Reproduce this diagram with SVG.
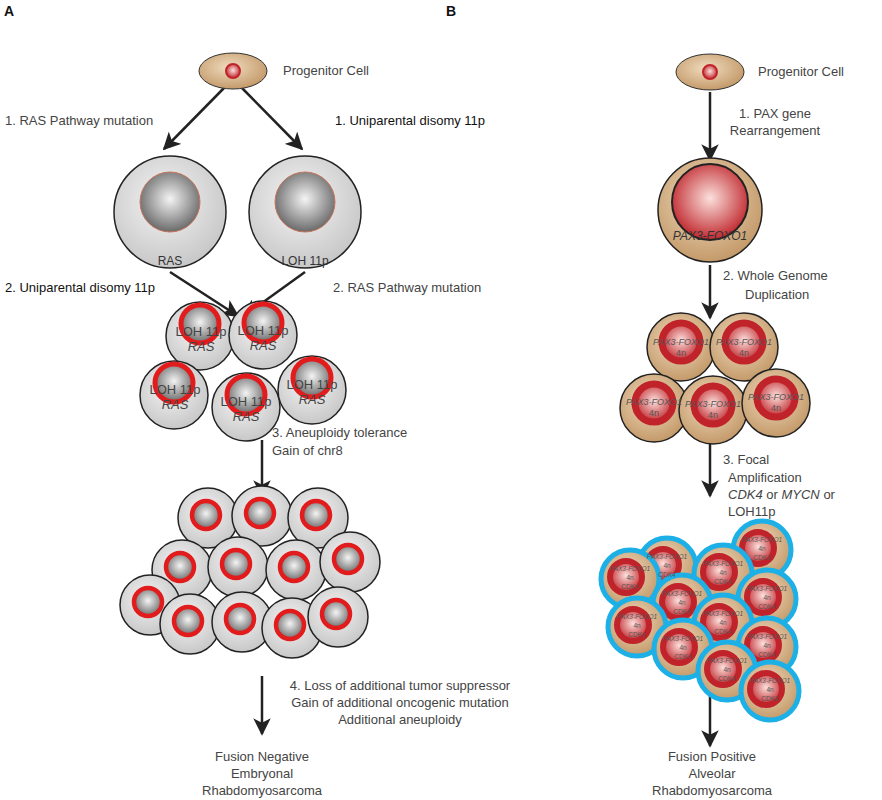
<svg xmlns="http://www.w3.org/2000/svg" width="882" height="800" viewBox="0 0 882 800">
<defs>
<radialGradient id="gcell" cx="45%" cy="40%" r="60%"><stop offset="0" stop-color="#f4f4f4"/><stop offset="1" stop-color="#c8c8c8"/></radialGradient>
<radialGradient id="gnuc" cx="50%" cy="45%" r="55%"><stop offset="0" stop-color="#f4f4f4"/><stop offset="1" stop-color="#6a6a6a"/></radialGradient>
<radialGradient id="tan" cx="45%" cy="40%" r="60%"><stop offset="0" stop-color="#f0dcc0"/><stop offset="1" stop-color="#c49a6a"/></radialGradient>
<radialGradient id="rnuc" cx="50%" cy="45%" r="55%"><stop offset="0" stop-color="#fbe0dc"/><stop offset="1" stop-color="#c0282e"/></radialGradient>
<marker id="ah" viewBox="0 0 10 10" refX="9" refY="5" markerWidth="7" markerHeight="7" markerUnits="strokeWidth" orient="auto"><path d="M0,0 L10,5 L0,10 L2.5,5 z" fill="#222"/></marker>
<g id="gc"><circle r="34" fill="url(#gcell)" stroke="#222" stroke-width="1.5"/><circle cy="-12" r="19" fill="url(#gnuc)" stroke="#e21c1c" stroke-width="5"/></g>
<g id="gs"><circle r="30" fill="url(#gcell)" stroke="#222" stroke-width="1.5"/><circle cx="-2" cy="-3" r="14" fill="url(#gnuc)" stroke="#e21c1c" stroke-width="4.5"/></g>
<g id="tc"><circle r="34" fill="url(#tan)" stroke="#222" stroke-width="1.5"/><circle cy="-5" r="19" fill="url(#rnuc)" stroke="#c1232b" stroke-width="7"/></g>
<g id="bc"><circle r="29" fill="url(#tan)" stroke="#1cb0e6" stroke-width="5"/><circle cx="-4" cy="-2" r="16" fill="url(#rnuc)" stroke="#c1232b" stroke-width="6"/></g>
</defs>
<style>
text{font-family:"Liberation Sans",Arial,sans-serif;font-size:13px;fill:#444}
.b{fill:#111}
.h{font-weight:bold;fill:#111;font-size:14px}
.s{font-size:12px;fill:#333}
.t{font-size:9px;fill:#555}
.tt{font-size:6.5px;fill:#555}
.i{font-style:italic}
.c{text-anchor:middle}
.con line{stroke:#222;stroke-width:2.5;marker-end:url(#ah)}
</style>
<rect width="882" height="800" fill="#fff"/>
<text x="4" y="16" class="h">A</text>
<text x="446" y="16" class="h">B</text>

<g id="connectors" class="con">
<line x1="224" y1="88" x2="164" y2="149"/>
<line x1="242" y1="88" x2="302" y2="149"/>
<line x1="170" y1="272" x2="238" y2="316"/>
<line x1="305" y1="272" x2="244" y2="316"/>
<line x1="262" y1="440" x2="262" y2="496"/>
<line x1="262" y1="676" x2="262" y2="734"/>
<line x1="710" y1="92" x2="710" y2="160"/>
<line x1="710" y1="265" x2="710" y2="318"/>
<line x1="710" y1="440" x2="710" y2="496"/>
<line x1="710" y1="692" x2="710" y2="746"/>
</g>

<g id="progA"><ellipse cx="233" cy="71" rx="34" ry="18" fill="url(#tan)" stroke="#333"/><circle cx="233" cy="71" r="7" fill="url(#rnuc)" stroke="#c1232b" stroke-width="2"/><text x="283" y="75">Progenitor Cell</text></g>
<text x="5" y="125">1. RAS Pathway mutation</text>
<text x="335" y="125" class="b">1. Uniparental disomy 11p</text>
<g id="cellRAS"><circle cx="170" cy="212" r="56" fill="url(#gcell)" stroke="#222" stroke-width="1.5"/><circle cx="170" cy="202" r="30" fill="url(#gnuc)" stroke="#c8745a" stroke-width="1"/><text x="170" y="265" class="s c">RAS</text></g>
<g id="cellLOH"><circle cx="305" cy="212" r="56" fill="url(#gcell)" stroke="#222" stroke-width="1.5"/><circle cx="305" cy="202" r="30" fill="url(#gnuc)" stroke="#c8745a" stroke-width="1"/><text x="305" y="265" class="s c">LOH 11p</text></g>
<text x="5" y="292" class="b">2. Uniparental disomy 11p</text>
<text x="333" y="292">2. RAS Pathway mutation</text>

<g id="clusterA1">
<use href="#gc" x="200" y="336"/><use href="#gc" x="263" y="335"/><use href="#gc" x="174" y="395"/><use href="#gc" x="246" y="407"/><use href="#gc" x="312" y="390"/>
<text x="201" y="336" class="c">LOH 11p</text><text x="201" y="351" class="c i">RAS</text>
<text x="263" y="335" class="c">LOH 11p</text><text x="263" y="350" class="c i">RAS</text>
<text x="175" y="394" class="c">LOH 11p</text><text x="175" y="409" class="c i">RAS</text>
<text x="246" y="406" class="c">LOH 11p</text><text x="246" y="421" class="c i">RAS</text>
<text x="312" y="389" class="c">LOH 11p</text><text x="312" y="404" class="c i">RAS</text>
</g>
<text x="272" y="437">3. Aneuploidy tolerance</text>
<text x="272" y="455">Gain of chr8</text>

<g id="clusterA2">
<use href="#gs" x="208" y="518"/><use href="#gs" x="262" y="516"/><use href="#gs" x="318" y="518"/>
<use href="#gs" x="182" y="570"/><use href="#gs" x="238" y="567"/><use href="#gs" x="296" y="570"/><use href="#gs" x="350" y="562"/>
<use href="#gs" x="150" y="605"/><use href="#gs" x="190" y="624"/><use href="#gs" x="242" y="622"/><use href="#gs" x="292" y="628"/><use href="#gs" x="338" y="617"/>
</g>
<text x="400" y="690" class="c">4. Loss of additional tumor suppressor</text>
<text x="400" y="707" class="c">Gain of additional oncogenic mutation</text>
<text x="400" y="724" class="c">Additional aneuploidy</text>
<text x="262" y="761" class="c">Fusion Negative</text>
<text x="262" y="778" class="c">Embryonal</text>
<text x="262" y="795" class="c">Rhabdomyosarcoma</text>

<g id="progB"><ellipse cx="710" cy="72" rx="34" ry="18" fill="url(#tan)" stroke="#333"/><circle cx="710" cy="72" r="7" fill="url(#rnuc)" stroke="#c1232b" stroke-width="2"/><text x="758" y="76">Progenitor Cell</text></g>
<text x="775" y="118" class="c">1. PAX gene</text>
<text x="775" y="135" class="c">Rearrangement</text>
<g id="cellPAX"><circle cx="710" cy="210" r="52" fill="url(#tan)" stroke="#222" stroke-width="1.5"/><circle cx="710" cy="202" r="38" fill="url(#rnuc)" stroke="#222" stroke-width="2"/><text x="710" y="240" class="s c i">PAX3-FOXO1</text></g>
<text x="723" y="280">2. Whole Genome</text>
<text x="745" y="299">Duplication</text>

<g id="clusterB1">
<use href="#tc" x="681" y="347"/><use href="#tc" x="744" y="347"/><use href="#tc" x="654" y="408"/><use href="#tc" x="713" y="410"/><use href="#tc" x="776" y="403"/>
<text x="681" y="345" class="t c i">PAX3-FOXO1</text><text x="681" y="356" class="t c">4n</text>
<text x="744" y="345" class="t c i">PAX3-FOXO1</text><text x="744" y="356" class="t c">4n</text>
<text x="654" y="405" class="t c i">PAX3-FOXO1</text><text x="654" y="416" class="t c">4n</text>
<text x="713" y="407" class="t c i">PAX3-FOXO1</text><text x="713" y="418" class="t c">4n</text>
<text x="776" y="400" class="t c i">PAX3-FOXO1</text><text x="776" y="411" class="t c">4n</text>
</g>
<text x="723" y="464">3. Focal</text>
<text x="728" y="482">Amplification</text>
<text x="728" y="499"><tspan class="i">CDK4</tspan> or <tspan class="i">MYCN</tspan> or</text>
<text x="728" y="516">LOH11p</text>

<g id="clusterB2" transform="translate(0,4)">
<use href="#bc" x="667" y="563"/><use href="#bc" x="630" y="575"/><use href="#bc" x="762" y="546"/><use href="#bc" x="723" y="570"/>
<use href="#bc" x="682" y="600"/><use href="#bc" x="767" y="595"/><use href="#bc" x="637" y="623"/><use href="#bc" x="723" y="620"/>
<use href="#bc" x="683" y="645"/><use href="#bc" x="767" y="643"/><use href="#bc" x="727" y="667"/><use href="#bc" x="770" y="687"/>
<text x="667" y="555" class="tt c i">PAX3-FOXO1</text><text x="667" y="564" class="tt c">4n</text><text x="667" y="573" class="tt c">CDK4</text>
<text x="630" y="567" class="tt c i">PAX3-FOXO1</text><text x="630" y="576" class="tt c">4n</text><text x="630" y="585" class="tt c">CDK4</text>
<text x="762" y="538" class="tt c i">PAX3-FOXO1</text><text x="762" y="547" class="tt c">4n</text><text x="762" y="556" class="tt c">CDK4</text>
<text x="723" y="562" class="tt c i">PAX3-FOXO1</text><text x="723" y="571" class="tt c">4n</text><text x="723" y="580" class="tt c">CDK4</text>
<text x="682" y="592" class="tt c i">PAX3-FOXO1</text><text x="682" y="601" class="tt c">4n</text><text x="682" y="610" class="tt c">CDK4</text>
<text x="767" y="587" class="tt c i">PAX3-FOXO1</text><text x="767" y="596" class="tt c">4n</text><text x="767" y="605" class="tt c">CDK4</text>
<text x="637" y="615" class="tt c i">PAX3-FOXO1</text><text x="637" y="624" class="tt c">4n</text><text x="637" y="633" class="tt c">CDK4</text>
<text x="723" y="612" class="tt c i">PAX3-FOXO1</text><text x="723" y="621" class="tt c">4n</text><text x="723" y="630" class="tt c">CDK4</text>
<text x="683" y="637" class="tt c i">PAX3-FOXO1</text><text x="683" y="646" class="tt c">4n</text><text x="683" y="655" class="tt c">CDK4</text>
<text x="767" y="635" class="tt c i">PAX3-FOXO1</text><text x="767" y="644" class="tt c">4n</text><text x="767" y="653" class="tt c">CDK4</text>
<text x="727" y="659" class="tt c i">PAX3-FOXO1</text><text x="727" y="668" class="tt c">4n</text><text x="727" y="677" class="tt c">CDK4</text>
<text x="770" y="679" class="tt c i">PAX3-FOXO1</text><text x="770" y="688" class="tt c">4n</text><text x="770" y="697" class="tt c">CDK4</text>
</g>
<text x="712" y="761" class="c">Fusion Positive</text>
<text x="712" y="778" class="c">Alveolar</text>
<text x="712" y="795" class="c">Rhabdomyosarcoma</text>
</svg>
